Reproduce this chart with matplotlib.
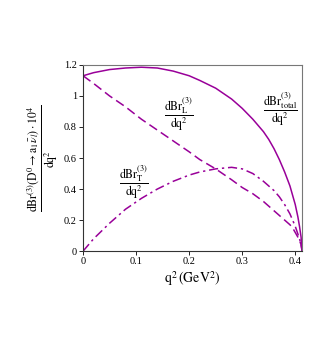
import matplotlib
matplotlib.use("Agg")
import matplotlib.pyplot as plt

plt.rcParams["font.family"] = ["Liberation Serif", "DejaVu Serif"]
plt.rcParams["mathtext.fontset"] = "stix"

COLOR = "#990099"

# values (q^2 in GeV^2, dBr/dq^2 * 10^4)
q2 = [0.0, 0.02, 0.05, 0.08, 0.11, 0.14, 0.17, 0.20, 0.22, 0.25, 0.28,
      0.30, 0.32, 0.34, 0.35, 0.36, 0.37, 0.38, 0.39, 0.395, 0.40,
      0.405, 0.408, 0.411, 0.413]
br_total = [1.13, 1.15, 1.17, 1.18, 1.185, 1.18, 1.16, 1.13, 1.10, 1.05, 0.98,
            0.92, 0.85, 0.77, 0.72, 0.66, 0.59, 0.51, 0.42, 0.36, 0.30,
            0.22, 0.16, 0.09, 0.0]
br_long = [1.13, 1.08, 1.00, 0.93, 0.85, 0.78, 0.71, 0.64, 0.59, 0.53, 0.46,
           0.41, 0.37, 0.32, 0.29, 0.26, 0.23, 0.20, 0.17, 0.15, 0.12,
           0.09, 0.07, 0.04, 0.0]
br_trans = [0.0, 0.08, 0.18, 0.27, 0.34, 0.40, 0.45, 0.49, 0.51, 0.53, 0.54,
            0.53, 0.50, 0.45, 0.42, 0.39, 0.35, 0.30, 0.24, 0.20, 0.16,
            0.11, 0.08, 0.04, 0.0]

x_ticks = [0, 0.1, 0.2, 0.3, 0.4]
x_tick_labels = ["0", "0.1", "0.2", "0.3", "0.4"]
y_ticks = [0, 0.2, 0.4, 0.6, 0.8, 1.0, 1.2]
y_tick_labels = ["0", "0.2", "0.4", "0.6", "0.8", "1", "1.2"]

fig = plt.figure(figsize=(3.27, 3.38), dpi=100)
ax = fig.add_axes([0.254, 0.257, 0.67, 0.551])

ax.plot(q2, br_total, color=COLOR, lw=1.1, ls="-")
ax.plot(q2, br_long, color=COLOR, lw=1.1, ls=(0, (6, 3)))
ax.plot(q2, br_trans, color=COLOR, lw=1.1, ls=(0, (6, 2.5, 1.5, 2.5)))

ax.set_xlim(0, 0.413)
ax.set_ylim(0, 1.2)
ax.set_xticks(x_ticks)
ax.set_xticklabels(x_tick_labels)
ax.set_yticks(y_ticks)
ax.set_yticklabels(y_tick_labels)
ax.tick_params(labelsize=7.5, length=3, width=0.6, direction="out", pad=1.5)
for side in ax.spines.values():
    side.set_color("#777777")
    side.set_linewidth(0.8)
for side in ("left", "bottom"):
    ax.spines[side].set_color("#333333")

ax.set_xlabel(r"$\mathrm{q}^2\,(\mathrm{GeV}^2)$", fontsize=10, labelpad=2)
ax.set_ylabel(r"$\dfrac{\mathrm{dBr}^{(3)}\left(\mathrm{D}^0\rightarrow \mathrm{a}_1\bar{\nu}_l\right)\cdot 10^4}{\mathrm{dq}^2}$",
              fontsize=8.5, labelpad=3)

ax.text(0.372, 0.91, r"$\dfrac{\mathrm{dBr}^{(3)}_{\mathrm{total}}}{\mathrm{dq}^2}$",
        fontsize=8.5, ha="center", va="center")
ax.text(0.18, 0.88, r"$\dfrac{\mathrm{dBr}^{(3)}_{\mathrm{L}}}{\mathrm{dq}^2}$",
        fontsize=8.5, ha="center", va="center")
ax.text(0.096, 0.44, r"$\dfrac{\mathrm{dBr}^{(3)}_{\mathrm{T}}}{\mathrm{dq}^2}$",
        fontsize=8.5, ha="center", va="center")

fig.savefig("out.png", dpi=100)
